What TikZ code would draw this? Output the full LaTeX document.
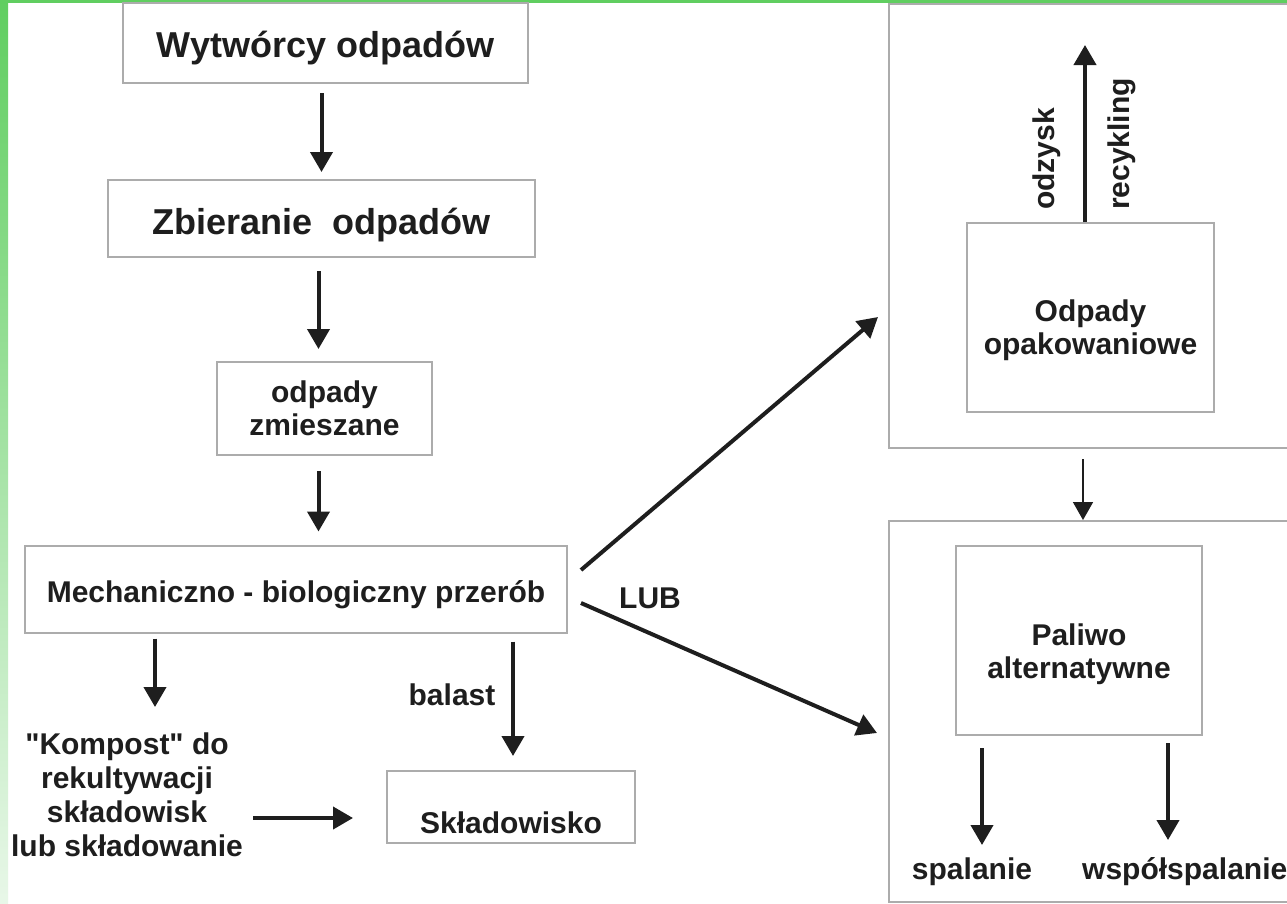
\documentclass[tikz,border=0pt]{standalone}
\usepackage{fontspec}
\setmainfont{Liberation Sans}[Ligatures=TeXOff]
\usetikzlibrary{arrows.meta,positioning,calc}
\definecolor{framegreen}{RGB}{96,206,96}
\definecolor{palegreen}{RGB}{232,247,232}
\definecolor{boxgray}{RGB}{172,172,172}
\definecolor{textdark}{RGB}{30,30,30}
% lowers the text inside a box by #1
\newcommand{\dropby}[1]{\rule{0pt}{\dimexpr0.75em+#1*2\relax}}

\begin{document}
\begin{tikzpicture}[x=1pt, y=-1pt,
    box/.style={draw=boxgray, line width=2pt, inner sep=0pt, align=center, text=textdark, font=\fontsize{30}{33}\selectfont\bfseries},
    bigbox/.style={box, font=\fontsize{36}{40}\selectfont\bfseries},
    frame/.style={draw=boxgray, line width=2pt, inner sep=0pt},
    txt/.style={inner sep=0pt, align=center, text=textdark, font=\fontsize{30}{33}\selectfont\bfseries},
    flow/.style={draw=textdark, line width=4pt, -{Triangle[width=22pt,length=20pt]}},
    thinflow/.style={draw=textdark, line width=1.5pt, -{Triangle[width=20pt,length=18pt]}}]
    \useasboundingbox (0,0) rectangle (1287,903);
    \clip (0,0) rectangle (1287,903);
    \fill[white] (0,0) rectangle (1287,903);
    \shade[top color=framegreen, bottom color=palegreen] (0,0) rectangle (8,903);
    \fill[framegreen] (0,0) rectangle (1287,3);

    % left column
    \node[bigbox, minimum width=405pt, minimum height=80pt] (wytw) at (325.5,43) {\dropby{4.5pt}Wytwórcy odpadów};
    \node[bigbox, minimum width=427pt, minimum height=77pt] (zbier) at (321.5,218.5) {\dropby{6.5pt}Zbieranie\ \ odpadów};
    \node[box, minimum width=215pt, minimum height=93pt] (zmiesz) at (324.5,408.5) {odpady\\zmieszane};
    \node[box, minimum width=542pt, minimum height=87pt] (mech) at (296,589) {\dropby{5pt}Mechaniczno - biologiczny przerób};
    \node[box, minimum width=248pt, minimum height=72pt] (sklad) at (511,807) {\dropby{15pt}Składowisko};
    \node[txt, anchor=north, font=\fontsize{30}{34}\selectfont\bfseries] (kompost) at (127,733) {"Kompost" do\\rekultywacji\\składowisk\\lub składowanie};

    % right column
    \node[frame, minimum width=406pt, minimum height=444pt] (outtop) at (1092,226) {};
    \node[frame, minimum width=406pt, minimum height=381pt] (outbot) at (1092,711.5) {};
    \node[box, minimum width=247pt, minimum height=189pt] (opak) at (1090.5,317.5) {\dropby{12.5pt}Odpady\\opakowaniowe};
    \node[box, minimum width=246pt, minimum height=189pt] (paliwo) at (1079,640.5) {\dropby{13pt}Paliwo\\alternatywne};

    % labels
    \node[txt, rotate=90] (odzysk) at (1047,159) {odzysk};
    \node[txt, rotate=90] (recykling) at (1122,144) {recykling};
    \node[txt] (lub) at (650,598) {LUB};
    \node[txt] (balast) at (452,695) {balast};
    \node[txt, anchor=base] (spalanie) at (972,879) {spalanie};
    \node[txt, anchor=base west] (wspol) at (1082,879) {współspalanie};

    \coordinate (recyend) at (1085,45);
    \coordinate (uptip) at (878,317);
    \coordinate (downtip) at (877,733);
    \coordinate (kompostin) at (155,707);
    \coordinate (kompostout) at (253,818);
    \coordinate (spaltip) at (982,845);
    \coordinate (wspoltip) at (1168,840);

    % arrows
    \draw[flow, shorten <=9pt, shorten >=7pt] (wytw.south -| zbier.north) -- (zbier.north);
    \draw[flow, shorten <=13pt, shorten >=12pt] ([xshift=-3pt]zbier.south) -- ([xshift=-3pt]zbier.south |- zmiesz.north);
    \draw[flow, shorten <=15pt, shorten >=13pt] ([xshift=-6pt]zmiesz.south) -- ([xshift=-6pt]zmiesz.south |- mech.north);
    \draw[flow, shorten <=5pt] (mech.south -| kompostin) -- (kompostin);
    \draw[flow, shorten <=8pt, shorten >=14pt] ([xshift=2pt]sklad.north |- mech.south) -- ([xshift=2pt]sklad.north);
    \draw[flow, shorten >=33pt] (kompostout) -- (sklad.west |- kompostout);
    \draw[flow] ([xshift=13pt,yshift=19pt]mech.east) -- (uptip);
    \draw[flow] ([xshift=13pt,yshift=-14pt]mech.east) -- (downtip);
    \draw[flow] (opak.north -| recyend) -- (recyend);
    \draw[thinflow, shorten <=10pt] ([xshift=-9pt]outtop.south) -- ([xshift=-9pt]outbot.north);
    \draw[flow, shorten <=12pt] (paliwo.south -| spaltip) -- (spaltip);
    \draw[flow, shorten <=7pt] (paliwo.south -| wspoltip) -- (wspoltip);
\end{tikzpicture}
\end{document}
